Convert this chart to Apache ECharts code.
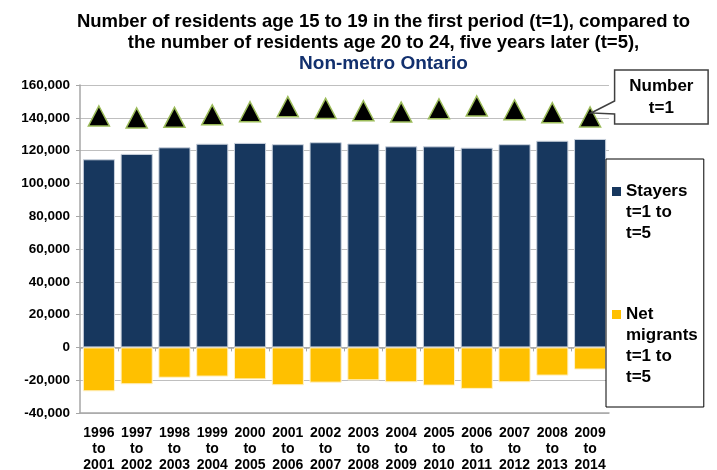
<!DOCTYPE html>
<html>
<head>
<meta charset="utf-8">
<script src="https://cdn.jsdelivr.net/npm/echarts@6/dist/echarts.min.js"></script>
<style>
html,body{margin:0;padding:0;background:#fff;}
#chart{width:717px;height:470px;}
</style>
</head>
<body>
<div id="chart"></div>
<script>
const categories = ['1996\nto\n2001','1997\nto\n2002','1998\nto\n2003','1999\nto\n2004','2000\nto\n2005','2001\nto\n2006','2002\nto\n2007','2003\nto\n2008','2004\nto\n2009','2005\nto\n2010','2006\nto\n2011','2007\nto\n2012','2008\nto\n2013','2009\nto\n2014'];
const stayers = [114700,118000,122000,124200,124700,123900,125100,124300,122600,122600,121800,123900,126000,127100];
const netMigrants = [-26800,-22500,-18500,-17800,-19500,-23100,-21500,-20100,-21300,-23300,-25300,-21300,-17200,-13500];
const numberT1 = [141100,139900,140300,141800,143700,146800,145700,144300,143500,145500,147200,144900,143100,140500];
const yTicks = {min:-40000, max:160000, interval:20000};

const FONT = 'Arial, "Liberation Sans", sans-serif';
const chart = echarts.init(document.getElementById('chart'));
const legendNames = ['Stayers t=1 to t=5','Net migrants t=1 to t=5'];

chart.setOption({
  animation:false,
  backgroundColor:'#fff',
  textStyle:{fontFamily:FONT},
  title:{
    left:'center',
    top:6,
    text:'{sp| }{a|Number of residents age 15 to 19 in the first period (t=1), compared to}\n{sp| }{a|the number of residents age 20 to 24, five years later (t=5),}\n{sp| }{b|Non-metro Ontario}',
    textStyle:{fontFamily:FONT,fontSize:18,fontWeight:'bold',color:'#000',lineHeight:21,
      rich:{
        sp:{width:50},
        a:{fontFamily:FONT,fontSize:18.5,fontWeight:'bold',color:'#000',lineHeight:21},
        b:{fontFamily:FONT,fontSize:19,fontWeight:'bold',color:'#12306E',lineHeight:21}
      }}
  },
  legend:{
    orient:'vertical',
    left:606, top:159,
    padding:[22,6,19,0],
    itemGap:60,
    itemWidth:0, itemHeight:0,
    itemStyle:{opacity:0},
    backgroundColor:'#fff',
    borderColor:'#000', borderWidth:1,
    data:legendNames,
    formatter:function(n){
      if(n===legendNames[0]) return '{s1| }{t|Stayers}\n{sp| }{t|t=1 to}\n{sp| }{t|t=5}';
      return '{s2| }{t|Net}\n{sp| }{t|migrants}\n{sp| }{t|t=1 to}\n{sp| }{t|t=5}';
    },
    textStyle:{fontFamily:FONT,fontSize:17,fontWeight:'bold',color:'#000',lineHeight:21,
      rich:{
        s1:{width:9,height:9,backgroundColor:'#17375E'},
        s2:{width:9,height:9,backgroundColor:'#FFC000'},
        sp:{width:9},
        t:{fontFamily:FONT,fontSize:17,fontWeight:'bold',color:'#000',lineHeight:21,padding:[0,0,0,5]}
      }}
  },
  grid:{left:80,right:108,top:85,bottom:57,containLabel:false,outerBoundsMode:'none'},
  xAxis:[{
    type:'category', data:categories, position:'bottom',
    axisLine:{onZero:false,lineStyle:{color:'#A6A6A6',width:1.5}},
    axisTick:{show:false},
    axisLabel:{interval:0,margin:12,fontFamily:FONT,fontSize:14,fontWeight:'bold',color:'#000',lineHeight:16}
  },{
    type:'category', data:categories, position:'bottom',
    axisLine:{onZero:true,lineStyle:{color:'#A6A6A6',width:1.5}},
    axisTick:{show:true,length:4,lineStyle:{color:'#A6A6A6'}},
    axisLabel:{show:false}
  }],
  yAxis:{
    type:'value', min:yTicks.min, max:yTicks.max, interval:yTicks.interval,
    axisLine:{show:true,lineStyle:{color:'#A6A6A6',width:1.5}},
    axisTick:{show:true,length:4,lineStyle:{color:'#A6A6A6'}},
    splitLine:{lineStyle:{color:'#BFBFBF',width:1.2}},
    axisLabel:{margin:10,fontFamily:FONT,fontSize:13.5,fontWeight:'bold',color:'#000'}
  },
  series:[{
    name:legendNames[0], type:'bar', stack:'a', data:stayers, barCategoryGap:'15%',
    itemStyle:{color:'#17375E',borderColor:'#C9D1DC',borderWidth:1}
  },{
    name:legendNames[1], type:'bar', stack:'a', data:netMigrants, barCategoryGap:'15%',
    itemStyle:{color:'#FFC000',borderColor:'#FFF2CC',borderWidth:1}
  },{
    name:'Number t=1', type:'scatter', data:numberT1, z:5,
    symbol:'triangle', symbolSize:[21,20],
    itemStyle:{color:'#000',borderColor:'#9BBB59',borderWidth:1.5,opacity:1}
  }]
});

// Callout for the last "Number t=1" point, placed from the library's own scale
const last = numberT1.length - 1;
const p = chart.convertToPixel({xAxisIndex:0,yAxisIndex:0},[last, numberT1[last]]);
const L = p[0]+24.5, R = p[0]+118, T = p[1]-47, B = p[1]+7;
chart.setOption({
  graphic:[{
    type:'polygon', z:100,
    shape:{points:[[L,T],[R,T],[R,B],[L,B],[L,p[1]-3],[p[0]+1,p[1]-4],[L,p[1]-16]]},
    style:{fill:'#fff',stroke:'#404040',lineWidth:1.5}
  },{
    type:'text', z:101,
    x:(L+R)/2, y:(T+B)/2,
    style:{text:'Number\nt=1',fill:'#000',font:'bold 17px '+FONT,lineHeight:22,align:'center',verticalAlign:'middle'}
  }]
});
</script>
</body>
</html>
